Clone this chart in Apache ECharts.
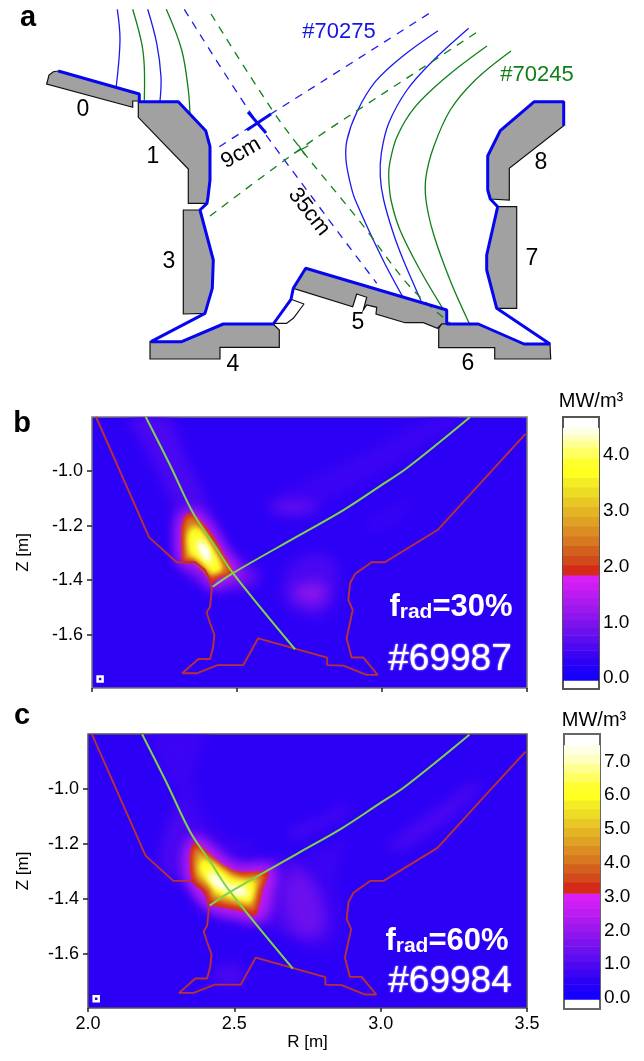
<!DOCTYPE html>
<html><head><meta charset="utf-8">
<style>html,body{margin:0;padding:0;background:#fff}#c{width:644px;height:1061px}</style>
<script src="https://cdn.jsdelivr.net/npm/echarts@6/dist/echarts.min.js"></script>
</head><body><div id="c"></div>
<script>
// ---------- Colour scale ----------
const colorbarColors=['#1400fb','#2000f8','#2c00f5','#3c04f3','#4c08f1','#5c0cf0','#6c10ee','#7c12ee','#8c16ec','#9c18ee','#ac1af0','#bc1cf2','#cc1ef4','#d820f6','#d62a18','#d24a1c','#d4601e','#d87820','#dc8c22','#e0a224','#e4b424','#e8c824','#ecdc24','#f4ec24','#ffff20','#ffff30','#ffff60','#ffff90','#ffffc0','#ffffe6'];
const boundsB=[-0.04,.095,.23,.365,.5,.635,.77,.905,1.04,1.175,1.31,1.445,1.58,1.715,1.85,2.03,2.2,2.38,2.55,2.73,2.9,3.08,3.25,3.43,3.6,3.78,3.95,4.13,4.27,4.38,4.49];
const boundsC=[-0.04,.18,.41,.63,.86,1.08,1.3,1.53,1.75,1.98,2.2,2.42,2.65,2.87,3.1,3.43,3.7,3.97,4.24,4.51,4.78,5.05,5.32,5.59,5.86,6.13,6.4,6.67,6.94,7.21,7.48];
const cbTicksB=[0,1,2,3,4];
const cbTicksC=[0,1,2,3,4,5,6,7];
const rTicks=[2.0,2.5,3.0,3.5];
const zTicks=[-1.6,-1.4,-1.2,-1.0];

// ---------- Panels b, c: wall and separatrix, R [m], Z [m] ----------
const wall=[[2.014,-.802],[2.197,-1.243],[2.292,-1.334],[2.355,-1.334],[2.39,-1.363],[2.407,-1.40],[2.413,-1.436],[2.407,-1.497],[2.395,-1.518],[2.407,-1.557],[2.422,-1.60],[2.418,-1.644],[2.407,-1.689],[2.367,-1.689],[2.311,-1.741],[2.361,-1.741],[2.433,-1.711],[2.522,-1.711],[2.573,-1.613],[2.811,-1.684],[2.811,-1.711],[2.867,-1.713],[2.947,-1.747],[2.985,-1.747],[2.935,-1.683],[2.895,-1.683],[2.878,-1.613],[2.899,-1.509],[2.884,-1.473],[2.89,-1.411],[2.907,-1.377],[2.964,-1.334],[3.01,-1.334],[3.194,-1.214],[3.349,-1.033],[3.495,-.864]];
const sepLeg1=[[2.185,-.801],[2.269,-.978],[2.349,-1.155],[2.418,-1.265],[2.486,-1.374],[2.70,-1.653]];
const sepLeg2=[[2.416,-1.424],[2.486,-1.374],[2.717,-1.234],[2.867,-1.143],[2.993,-1.055],[3.085,-.99],[3.303,-.803]];
const markerPoint=[[2.028,-1.762]];

// ---------- Panel b: radiated power contours, MW/m3 ----------
const levelsB=[.4,.4,.5,.55,1.1,1.0,.8,1.6,1.9,2.4,3.0,3.6,4.1,4.6];
const ringsB=[
[[2.60,-1.11],[2.85,-.98],[3.0,-.90],[3.18,-.80],[3.28,-.80],[3.05,-.97],[2.85,-1.09],[2.65,-1.17]],
[[2.94,-1.20],[3.05,-1.13],[3.1,-1.10],[3.08,-1.15],[2.98,-1.22]],
[[2.131,-.801],[2.257,-.801],[2.338,-.984],[2.418,-1.155],[2.476,-1.289],[2.568,-1.351],[2.579,-1.412],[2.499,-1.436],[2.412,-1.436],[2.349,-1.351],[2.298,-1.326],[2.292,-1.204],[2.257,-1.070],[2.188,-.923]],
[[2.660,-1.399],[2.705,-1.326],[2.786,-1.302],[2.843,-1.338],[2.843,-1.460],[2.797,-1.534],[2.705,-1.521],[2.660,-1.473]],
[[2.694,-1.436],[2.728,-1.418],[2.797,-1.412],[2.803,-1.467],[2.763,-1.491],[2.705,-1.467]],
[[2.292,-1.167],[2.338,-1.131],[2.389,-1.167],[2.453,-1.265],[2.499,-1.351],[2.556,-1.375],[2.556,-1.405],[2.464,-1.424],[2.412,-1.430],[2.303,-1.338]],
[[2.614,-1.137],[2.671,-1.112],[2.763,-1.118],[2.786,-1.137],[2.705,-1.155]],
[[2.303,-1.180],[2.343,-1.149],[2.395,-1.192],[2.435,-1.259],[2.470,-1.314],[2.510,-1.369],[2.441,-1.406],[2.412,-1.424],[2.390,-1.369],[2.355,-1.341],[2.306,-1.341]],
[[2.324,-1.158],[2.349,-1.158],[2.389,-1.198],[2.424,-1.247],[2.453,-1.302],[2.485,-1.372],[2.435,-1.393],[2.412,-1.414],[2.401,-1.393],[2.378,-1.363],[2.355,-1.336],[2.315,-1.336],[2.309,-1.289],[2.309,-1.204]],
[[2.332,-1.170],[2.355,-1.174],[2.386,-1.214],[2.418,-1.263],[2.447,-1.314],[2.473,-1.368],[2.432,-1.385],[2.409,-1.393],[2.393,-1.363],[2.370,-1.346],[2.349,-1.326],[2.322,-1.326],[2.317,-1.283],[2.318,-1.204]],
[[2.338,-1.198],[2.361,-1.198],[2.389,-1.238],[2.424,-1.296],[2.447,-1.351],[2.424,-1.375],[2.407,-1.377],[2.384,-1.351],[2.355,-1.320],[2.332,-1.314],[2.326,-1.265],[2.329,-1.222]],
[[2.336,-1.222],[2.367,-1.210],[2.401,-1.259],[2.435,-1.320],[2.447,-1.360],[2.416,-1.373],[2.390,-1.344],[2.361,-1.320],[2.338,-1.302],[2.330,-1.259]],
[[2.355,-1.247],[2.386,-1.247],[2.416,-1.302],[2.424,-1.344],[2.401,-1.344],[2.372,-1.308],[2.353,-1.283]],
[[2.367,-1.265],[2.393,-1.271],[2.409,-1.320],[2.398,-1.329],[2.375,-1.304]]
];

// ---------- Panel c: radiated power contours, MW/m3 ----------
const levelsC=[.7,.7,.9,.9,.9,1.0,1.3,2.2,2.6,3.2,4.0,5.0,6.0,6.8,7.6];
const ringsC=[
[[2.21,-.80],[2.40,-.80],[2.36,-.95],[2.40,-1.08],[2.46,-1.16],[2.60,-1.22],[2.45,-1.25],[2.36,-1.17],[2.31,-1.03]],
[[2.656,-1.276],[2.793,-1.228],[2.884,-1.179],[2.850,-1.313],[2.872,-1.495],[2.815,-1.592],[2.702,-1.555],[2.645,-1.495]],
[[2.679,-1.155],[2.793,-1.107],[2.895,-1.052],[2.884,-1.088],[2.770,-1.155],[2.702,-1.179]],
[[3.02,-1.21],[3.15,-1.10],[3.33,-.97],[3.34,-1.0],[3.2,-1.14],[3.07,-1.22]],
[[2.42,-1.67],[2.49,-1.63],[2.54,-1.67],[2.52,-1.71],[2.44,-1.71]],
[[2.257,-1.179],[2.314,-1.034],[2.360,-1.131],[2.451,-1.204],[2.519,-1.252],[2.645,-1.252],[2.713,-1.276],[2.713,-1.446],[2.702,-1.519],[2.645,-1.507],[2.554,-1.494],[2.428,-1.464],[2.349,-1.349],[2.297,-1.331],[2.246,-1.276]],
[[2.667,-1.373],[2.713,-1.288],[2.770,-1.337],[2.810,-1.446],[2.804,-1.519],[2.759,-1.543],[2.702,-1.519]],
[[2.337,-1.216],[2.366,-1.167],[2.428,-1.222],[2.508,-1.282],[2.633,-1.282],[2.633,-1.373],[2.599,-1.476],[2.542,-1.470],[2.417,-1.434],[2.349,-1.349],[2.331,-1.288]],
[[2.350,-1.205],[2.378,-1.190],[2.440,-1.240],[2.508,-1.290],[2.625,-1.292],[2.610,-1.370],[2.585,-1.468],[2.530,-1.456],[2.417,-1.427],[2.352,-1.345],[2.340,-1.290]],
[[2.366,-1.194],[2.388,-1.210],[2.428,-1.246],[2.462,-1.276],[2.508,-1.298],[2.565,-1.301],[2.616,-1.303],[2.599,-1.361],[2.582,-1.434],[2.571,-1.461],[2.531,-1.446],[2.474,-1.434],[2.417,-1.419],[2.406,-1.385],[2.360,-1.343],[2.349,-1.301],[2.349,-1.228]],
[[2.371,-1.213],[2.400,-1.234],[2.440,-1.267],[2.474,-1.291],[2.519,-1.310],[2.599,-1.313],[2.588,-1.361],[2.567,-1.440],[2.531,-1.432],[2.474,-1.419],[2.423,-1.404],[2.411,-1.373],[2.369,-1.331],[2.360,-1.288],[2.360,-1.234]],
[[2.380,-1.234],[2.411,-1.252],[2.451,-1.282],[2.485,-1.307],[2.531,-1.325],[2.582,-1.327],[2.571,-1.373],[2.556,-1.422],[2.519,-1.416],[2.474,-1.404],[2.428,-1.388],[2.417,-1.361],[2.377,-1.319],[2.369,-1.276]],
[[2.392,-1.256],[2.423,-1.270],[2.462,-1.300],[2.497,-1.325],[2.542,-1.333],[2.570,-1.340],[2.556,-1.410],[2.519,-1.406],[2.480,-1.392],[2.436,-1.378],[2.422,-1.352],[2.388,-1.312],[2.380,-1.282]],
[[2.408,-1.292],[2.451,-1.313],[2.485,-1.342],[2.536,-1.349],[2.552,-1.373],[2.540,-1.396],[2.491,-1.385],[2.445,-1.367],[2.414,-1.335]],
[[2.422,-1.312],[2.457,-1.332],[2.480,-1.356],[2.525,-1.362],[2.536,-1.380],[2.497,-1.376],[2.451,-1.356],[2.428,-1.337]]
];

// ---------- Panel a: schematic cross-section ----------
const tiles=[
[[46.7,84],[49,75],[53.3,71.7],[58.3,71],[139.3,94],[139.3,101],[132.7,101],[132.7,107.3]],
[[138.3,101.7],[178.3,101.7],[205.7,130.7],[210,146.7],[210,180],[208,197],[207,203.3],[188.3,203.3],[188.3,169],[138.3,117.3]],
[[183.3,210],[200,210],[213.3,260],[212.3,288.3],[205,313.3],[183.3,314]],
[[150,341.7],[181.7,341.7],[223.3,324],[273.3,324],[279.3,330],[279.3,347.3],[220,347.3],[220,359],[150,359]],
[[305.7,268.3],[446.7,310],[446.7,324],[441.7,324],[437.3,328.3],[423.3,322.7],[405,322.7],[376,314],[376.7,307.3],[366.7,305],[363.3,310],[366.7,297.3],[356.7,294],[352.7,306.7],[293.3,288.3]],
[[438.7,328.3],[441.7,324],[478.3,324],[524,344],[550,344],[550.7,359],[494.7,359],[494.7,347.7],[438.7,347.7]],
[[497.7,206.7],[516.7,206.7],[516.7,308.3],[496.7,308.3],[486.7,270],[486.7,255]],
[[534.3,101.7],[563.7,101.7],[563.7,125.7],[509.3,168.3],[509.3,200],[490.3,199],[487.7,190],[487.7,156],[500.3,130.7]]
];
const smallTile=[[291,299.3],[304,304],[293.3,318.3],[286.7,323.3],[273.3,323.3]];
const blueWall0=[[58.3,71],[139.3,94],[139.3,101]];
const blueWall=[[138.3,101.7],[178.3,101.7],[205.7,130.7],[210,146.7],[210,180],[208,197],[207,203.3],[200,210],[213.3,260],[212.3,288.3],[205,313.3],[151,341.7],[181.7,341.7],[223.3,324],[273.3,324],[291,299.3],[293.3,288.3],[305.7,268.3],[446.7,310],[446.7,324],[478.3,324],[524,344],[550,344],[496.7,308.3],[486.7,270],[486.7,255],[497.7,206.7],[490.3,199],[487.7,190],[487.7,156],[500.3,130.7],[534.3,101.7],[563.7,101.7],[563.7,125.7]];
const fluxBlue=[
[[117.3,9.3],[120,40],[116.3,86]],
[[147.7,9.3],[156.7,43.3],[161,76.7],[160,101]],
[[438,30.7],[402,56.7],[375.3,81.7],[357,111.7],[347,140],[346,160],[350.3,183.3],[355.3,200],[382,258],[402.7,296.7]],
[[468.7,28.3],[432,61.7],[407,90],[388.7,123.3],[381.3,153.3],[380.3,176.7],[383.7,200],[393.3,233.3],[403.3,260],[421,300.7]]
];
const fluxGreen=[
[[132.7,9.3],[141.7,43.3],[144.3,66.7],[144.3,100.7]],
[[166.3,9.3],[181.7,50],[188.3,90],[190,115]],
[[487,46],[448.7,75],[415.3,106.7],[397,136.7],[389.7,163.3],[388.7,176.7],[391,200],[400,230],[420,270],[442.7,308.3]],
[[511,51],[475.3,80],[450.3,110],[433.7,146.7],[426,176.7],[426,200],[433.3,233.3],[450,280],[470,325]]
];
const dashBlue=[[[184.3,9.3],[250,112],[311.7,196.7],[376.7,283.3]],[[219.3,146.7],[258,122],[322,81.7],[430.3,12.7]]];
const dashGreen=[[[211,14],[270,106.7],[301.7,150],[360,221.7],[410,286.7],[450,323]],[[210,216],[285,160],[327,130.5],[432,61.7],[480.3,30]]];
const crossBlue=[[[248,112],[266,133]],[[247,130],[271,114]]];
const crossGreen=[[[294,153.3],[308.3,145.7]],[[298.3,145],[305,155]]];

// ---------- Text ----------
const tileNames=[['0',83,110],['1',153,157],['3',169,262],['4',233,365],['5',358,323],['6',468,364],['7',532,259],['8',541,163]];
const panelLetters=[['a',28,18],['b',22,424],['c',22,716]];
const shotLabels=[['#69987',450,660],['#69984',450,982]];
const fradLabels=[['30',451,606],['60',447,940]];

// ---------- Builders ----------
const FONT='Liberation Sans';
function bandColor(level,bounds){
  if(level>=bounds[bounds.length-1]) return '#ffffff';
  for(let i=colorbarColors.length-1;i>=0;i--) if(level>=bounds[i]) return colorbarColors[i];
  return colorbarColors[0];
}
const OFF=3000; // the ring is painted only through its blurred shadow, which gives it a soft edge
function polySeries(gridIndex,rings,levels,bounds,red){
  return {type:'custom',xAxisIndex:gridIndex,yAxisIndex:gridIndex,clip:true,z:2,silent:true,
    data:rings.map((r,i)=>[i]),
    renderItem(p,api){
      const i=api.value(0), c=bandColor(levels[i],bounds), L=levels[i];
      const blur=L<red?13:(L<red*1.1?1.5:4);
      return {type:'polygon',shape:{points:rings[i].map(q=>{const a=api.coord(q);return [a[0]-OFF,a[1]];}),smooth:0.3},
        style:{fill:c,shadowBlur:blur,shadowColor:c,shadowOffsetX:OFF}};
    }};
}
function bandSeries(gridIndex,bounds){
  return {type:'custom',xAxisIndex:gridIndex,yAxisIndex:gridIndex,silent:true,z:2,
    data:colorbarColors.map((c,i)=>[i]),
    renderItem(p,api){
      const i=api.value(0), a=api.coord([0,bounds[i+1]]), b=api.coord([1,bounds[i]]);
      return {type:'rect',shape:{x:a[0],y:a[1],width:b[0]-a[0],height:b[1]-a[1]+0.5},style:{fill:colorbarColors[i]}};
    }};
}
function line(g,data,color,width,extra){
  return Object.assign({type:'line',xAxisIndex:g,yAxisIndex:g,data,showSymbol:false,silent:true,z:3,
    lineStyle:{color,width},itemStyle:{color}},extra||{});
}
function curves(g,lines,color,width,dash,z){
  return {type:'custom',xAxisIndex:g,yAxisIndex:g,silent:true,clip:true,z:z||3,data:lines.map((l,i)=>[i]),
    renderItem(p,api){
      return {type:'polyline',shape:{points:lines[api.value(0)].map(q=>api.coord(q)),smooth:0.35},
        style:{fill:null,stroke:color,lineWidth:width,lineDash:dash||null}};
    }};
}
function txt(text,x,y,label){
  return {value:[x,y],label:Object.assign({show:true,position:'inside',formatter:text,fontFamily:FONT,color:'#000',fontSize:23,opacity:1},label||{})};
}
const texts=[
  ...tileNames.map(t=>txt(t[0],t[1],t[2])),
  ...panelLetters.map(t=>txt(t[0],t[1],t[2],{fontWeight:'bold',fontSize:29})),
  txt('#70275',339,32,{color:'#1414e6',fontSize:22}),
  txt('#70245',537,75,{color:'#0f7f17',fontSize:22}),
  txt('9cm',241,153,{rotate:30,fontSize:22}),
  txt('35cm',309,212,{rotate:-52,fontSize:22}),
  ...shotLabels.map(t=>txt(t[0],t[1],t[2],{color:'#fff',fontSize:37,textShadowColor:'#fff',textShadowBlur:2})),
  ...fradLabels.map(t=>txt('{a|f}{s|rad}{a|='+t[0]+'%}',t[1],t[2],{rich:{
    a:{color:'#fff',fontSize:31,fontWeight:'bold',fontFamily:FONT,verticalAlign:'bottom',lineHeight:34},
    s:{color:'#fff',fontSize:21,fontWeight:'bold',fontFamily:FONT,verticalAlign:'bottom',lineHeight:24,padding:[12,0,0,0]}}})),
  txt('MW/m³',591,401,{fontSize:20}),
  txt('MW/m³',594,720,{fontSize:20}),
];

const fmt1=v=>Number(v).toFixed(1);
function rAxis(g,labels,name){return {gridIndex:g,type:'value',min:2.0,max:3.5,splitLine:{show:false},
  name:name||'',nameLocation:'middle',nameGap:26,nameTextStyle:{fontFamily:FONT,fontSize:17,color:'#000'},
  axisLine:{show:false},axisTick:{show:true,length:4,customValues:rTicks,lineStyle:{color:'#222',width:1.5}},
  axisLabel:{show:labels,customValues:rTicks,formatter:fmt1,fontFamily:FONT,fontSize:18,color:'#000',margin:7}};}
function zAxis(g,min,max,gap){return {gridIndex:g,type:'value',min,max,splitLine:{show:false},
  name:'Z [m]',nameLocation:'middle',nameGap:gap,nameRotate:90,nameTextStyle:{fontFamily:FONT,fontSize:17,color:'#000'},
  axisLine:{show:false},axisTick:{show:true,length:5,customValues:zTicks,lineStyle:{color:'#222',width:1.5}},
  axisLabel:{customValues:zTicks,formatter:fmt1,fontFamily:FONT,fontSize:18,color:'#000',margin:9}};}
function cbAxis(g,min,max,ticks,len){return {gridIndex:g,type:'value',position:'right',min,max,splitLine:{show:false},
  axisLine:{show:false},axisTick:{show:true,length:len,customValues:ticks,lineStyle:{color:'#222'}},
  axisLabel:{customValues:ticks,formatter:fmt1,fontFamily:FONT,fontSize:19,color:'#000',margin:4}};}
const cbX=g=>({gridIndex:g,type:'value',min:0,max:1,show:false});
const marker=g=>({type:'scatter',xAxisIndex:g,yAxisIndex:g,data:markerPoint,symbol:'rect',symbolSize:5,silent:true,z:6,itemStyle:{color:HEAT_BG,borderColor:'#fff',borderWidth:2.5,opacity:1}});

const HEAT_BG='#2c00f5';
const GREEN='#7fd44a', RED='#b83234', BLUE='#1a1af0', DGREEN='#0f8016', WALL='#0505f0';
const option={
  animation:false,backgroundColor:'#fff',
  grid:[
    {left:0,top:0,width:644,height:1061},
    {left:92,top:417,width:435,height:271,show:true,backgroundColor:HEAT_BG,borderColor:'#777',borderWidth:1.5},
    {left:88,top:734,width:439,height:274,show:true,backgroundColor:HEAT_BG,borderColor:'#555',borderWidth:1.5},
    {left:563,top:417,width:36,height:272,show:true,backgroundColor:'#fff',borderColor:'#555',borderWidth:2},
    {left:564,top:734,width:36,height:275,show:true,backgroundColor:'#fff',borderColor:'#666',borderWidth:2}
  ],
  xAxis:[{gridIndex:0,type:'value',min:0,max:644,show:false},rAxis(1,false),rAxis(2,true,'R [m]'),cbX(3),cbX(4)],
  yAxis:[{gridIndex:0,type:'value',min:0,max:1061,inverse:true,show:false},zAxis(1,-1.795,-.802,60),zAxis(2,-1.796,-.80,56),cbAxis(3,-.197,4.686,cbTicksB,3),cbAxis(4,-.325,7.81,cbTicksC,6)],
  series:[
    // panel a
    {type:'custom',xAxisIndex:0,yAxisIndex:0,silent:true,z:1,data:tiles.map((t,i)=>[i]),
      renderItem(p,api){return {type:'polygon',shape:{points:tiles[api.value(0)].map(q=>api.coord(q))},style:{fill:'#a1a1a1',stroke:'#111',lineWidth:1.2,lineJoin:'miter'}};}},
    line(0,smallTile,'#111',1.2),
    curves(0,fluxBlue,BLUE,1.3),
    curves(0,fluxGreen,DGREEN,1.3),
    curves(0,dashBlue,BLUE,1.3,[8,7]),
    curves(0,dashGreen,DGREEN,1.3,[8,7]),
    ...crossBlue.map(d=>line(0,d,'#0808f0',3)),
    ...crossGreen.map(d=>line(0,d,DGREEN,1.3)),
    line(0,blueWall0,WALL,3,{z:4}),
    line(0,blueWall,WALL,3,{z:4}),
    // panel b
    polySeries(1,ringsB,levelsB,boundsB,1.85),
    line(1,wall,RED,1.9,{z:5}),
    curves(1,[sepLeg1,sepLeg2],GREEN,2,null,6),
    marker(1),
    // panel c
    polySeries(2,ringsC,levelsC,boundsC,3.1),
    line(2,wall,RED,1.9,{z:5}),
    curves(2,[sepLeg1,sepLeg2],GREEN,2,null,6),
    marker(2),
    // colour bars
    bandSeries(3,boundsB),
    bandSeries(4,boundsC),
    // text
    {type:'scatter',xAxisIndex:0,yAxisIndex:0,symbolSize:0,silent:true,z:20,itemStyle:{opacity:1},data:texts}
  ]
};
const chart=echarts.init(document.getElementById('c'),null,{renderer:'canvas'});
chart.setOption(option);
</script></body></html>
